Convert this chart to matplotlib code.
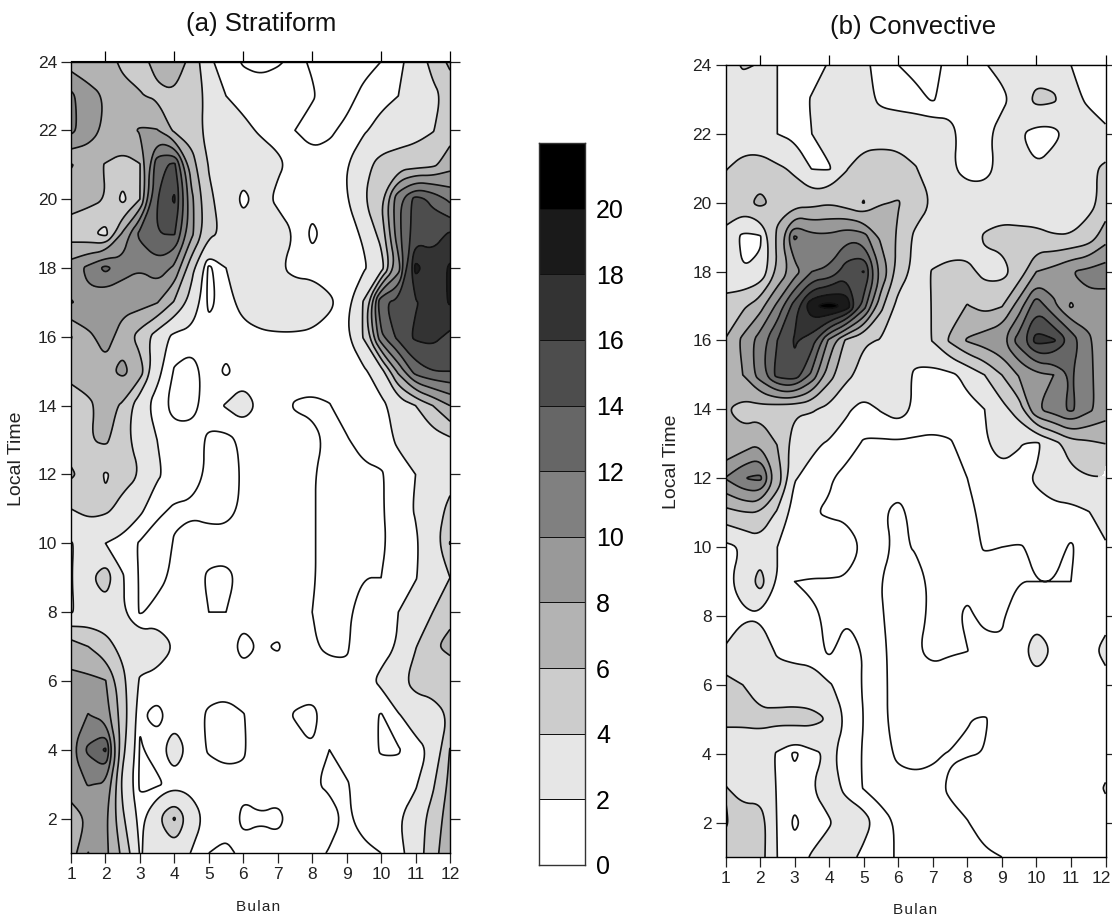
import numpy as np
import matplotlib
matplotlib.use("Agg")
import matplotlib.pyplot as plt
from matplotlib.path import Path
from matplotlib.transforms import ScaledTranslation

plt.rcParams['font.family'] = ['Liberation Sans', 'DejaVu Sans']

W, H = 1112, 917

months = [1, 1.5, 2, 2.5, 3, 3.5, 4, 4.5, 5, 5.5, 6, 6.5, 7, 7.5, 8, 8.5, 9, 9.5, 10, 10.5, 11, 11.5, 12]
hours = list(range(24, 0, -1))

# rows run from 24h down to 1h, columns are half month steps
stratiform = [
    [7, 7, 7, 5.5, 5.5, 6.5, 7, 5.5, 2.2, 1.5, 0.9, 0.7, 0.9, 1.2, 0.9, 0.6, 0.4, 0.6, 1.0, 1.5, 3, 4.5, 6.5],
    [10.5, 8.6, 7.9, 6.8, 6.1, 5.7, 5.8, 5, 3.5, 2, 1.5, 1.5, 1.5, 1.4, 1.1, 0.6, 0.6, 1.3, 1.5, 2, 3, 3.6, 4.5],
    [10.5, 9, 7.6, 7.2, 8.2, 8.1, 5.6, 5.2, 3.2, 2.5, 2.4, 1.8, 1.5, 1, 0.6, 0.8, 1.3, 1.8, 2.6, 3, 3.4, 3.9, 5],
    [5.9, 6.6, 5.9, 5.4, 5.9, 13.4, 14.5, 6.8, 3.9, 3, 3, 2.9, 2.3, 1.5, 1.4, 1.5, 2, 3.5, 4.6, 4.9, 5, 5.5, 7.2],
    [6.8, 6.5, 6, 3.4, 6, 14, 16.3, 8.5, 4.3, 3.3, 1.5, 2.7, 1.6, 1.5, 1.5, 1.5, 1.95, 3.9, 6, 11.5, 14.8, 13.5, 11.5],
    [5, 4.5, 3.3, 8.3, 12.6, 14, 14.2, 8.5, 4.5, 3.6, 3, 3, 3, 1.95, 0.7, 1.5, 1.5, 2.2, 4.7, 11.5, 15, 15.3, 16.2],
    [9, 10.5, 12.6, 10.8, 10.1, 11.2, 9.6, 4.6, 0.7, 2, 3, 3, 2.2, 1.5, 1.5, 1.5, 1.5, 1.8, 3, 9, 18.6, 16.8, 18.3],
    [10.1, 9.5, 8.2, 8.5, 8.8, 8.1, 5.8, 3.2, 0.7, 1.5, 2.5, 3.1, 3.2, 3.2, 3, 2.2, 1.5, 4.2, 13.8, 14.5, 15.8, 17, 18.2],
    [5.9, 7.6, 8.7, 7.3, 5.1, 3, 1.5, 1.5, 1.5, 1.5, 1.5, 1.7, 1.8, 1.8, 1.7, 1.6, 1.8, 4.2, 11.5, 14.7, 16.4, 16.6, 15.5],
    [7, 7, 7.5, 8.5, 7, 2.4, 0.9, 0.5, 1.5, 0.8, 1.5, 1.5, 1.5, 1.5, 1.5, 1.5, 1.5, 1.7, 3.1, 8.5, 13, 14, 14],
    [4.3, 5.6, 6.7, 5.7, 2.5, 1.5, 0.6, 0.6, 1.5, 2.1, 2.6, 1.8, 1.5, 0.9, 0.8, 0.95, 1.5, 1.5, 1.6, 2.7, 4, 6, 8],
    [5, 5.9, 6.4, 4.7, 3, 2, 1.5, 1.5, 0.8, 0.7, 1.2, 1.5, 1.5, 1.5, 1.3, 0.8, 0.9, 1.5, 1.5, 2.2, 2.6, 3, 3.6],
    [6.3, 5.2, 3.8, 4.7, 4, 2.2, 1.5, 1.5, 0.8, 0.6, 1.1, 1.5, 1.5, 1.5, 1.1, 0.6, 0.6, 0.7, 0.9, 1.5, 2, 3, 3.2],
    [4, 4.5, 4.4, 3.4, 2.3, 1.2, 0.9, 0.8, 0.6, 0.6, 1.2, 1.5, 1.5, 1.5, 1.1, 0.6, 0.5, 0.5, 0.9, 1.5, 2.1, 3, 4.5],
    [1.9, 2.6, 2, 1.5, 0.9, 0.6, 1.05, 1.5, 1.5, 1.5, 1.5, 1.5, 1.5, 1.5, 1.1, 0.6, 0.5, 0.5, 0.8, 1.5, 1.8, 3, 6.1],
    [1.9, 3.6, 5.2, 2.1, 0.9, 0.7, 1.2, 1.5, 0.8, 0.7, 1.3, 1.5, 1.5, 1.5, 1.1, 0.6, 0.6, 1, 1, 1.5, 1.9, 3, 4],
    [1.9, 2.5, 3, 2.1, 0.9, 1.3, 1.5, 1.5, 1, 1, 1.4, 1.5, 1.5, 1.5, 1, 0.6, 0.8, 1.5, 1.5, 2, 3, 4, 5.5],
    [7, 6, 4.6, 3.5, 3, 2.9, 2, 1.5, 1.5, 1.5, 0.6, 1.1, 0.9, 1.5, 1.1, 0.8, 0.9, 1.5, 1.5, 2.1, 3.9, 5.8, 6.5],
    [8.5, 8.5, 8.1, 4.5, 1.8, 1.5, 1.5, 1.5, 1.5, 1.5, 1.5, 1.5, 1.5, 1.5, 1.5, 1.5, 1.2, 1.5, 2.3, 3.3, 4.8, 5, 4.6],
    [8.5, 10.1, 9, 5, 1.1, 0.7, 1.4, 1.5, 0.8, 0.6, 0.95, 1.5, 1.5, 0.9, 0.7, 1.5, 1.5, 1.5, 0.9, 1.9, 2.6, 3, 4.2],
    [9.7, 12.4, 14.3, 4.5, 0.9, 1.4, 3, 1.5, 0.9, 0.6, 0.9, 1.5, 1.5, 1.5, 1.05, 1, 1.5, 1.5, 0.9, 0.9, 1.6, 2.2, 6.1],
    [9.2, 10.1, 9.8, 3.5, 0.8, 0.8, 1.4, 1.5, 1.5, 1.5, 1.2, 1.5, 1.5, 1.5, 1.1, 0.8, 0.9, 1.5, 1.5, 1.5, 1.8, 3.7, 6.5],
    [6.9, 8.2, 8.4, 4.3, 1.5, 3.9, 6.2, 3, 1.5, 1.5, 0.8, 0.9, 0.7, 1.5, 1.5, 1.5, 0.8, 1.5, 1.5, 1.9, 2.9, 4.8, 7],
    [7, 10.05, 8.5, 5.5, 1.9, 2.6, 3.2, 1.9, 1, 0.7, 1.3, 1.5, 1.5, 1.5, 1.4, 0.9, 0.9, 0.7, 1, 1.5, 2.9, 5.2, 7.5],
]

convective = [
    [3, 4.2, 3.9, 2, 1.5, 1.5, 2.1, 3, 2.3, 1.5, 1, 0.7, 0.7, 1.3, 1.5, 1.9, 2.5, 3, 3, 3, 2, 1.5, 1.5],
    [3, 3, 3, 2, 1.5, 2.1, 3, 3, 2.5, 1.7, 1.5, 1.3, 0.9, 1.5, 1.5, 1.7, 1.6, 2.7, 4.6, 4.3, 2.6, 1.7, 1.5],
    [3.1, 3, 2.8, 2, 1.5, 2, 3, 3, 3, 3, 3, 3, 3, 2.4, 1.4, 1.6, 2.7, 2.1, 1.3, 1.4, 2.9, 3, 2.2],
    [3.9, 4.6, 4.8, 4.3, 3.7, 1.9, 1.8, 3.9, 5, 5.3, 5, 4.1, 3, 2.2, 1.4, 1.4, 2.5, 3, 2.1, 3, 3.3, 3.6, 4.4],
    [5, 5.3, 6.6, 5.3, 5, 5.3, 5.8, 5, 3.9, 5.9, 6.1, 5.2, 3.9, 3, 3, 3, 3, 3, 3, 3, 3, 3.4, 4.6],
    [3.5, 1.5, 1.7, 6.5, 12.3, 10.6, 10.5, 11.5, 11, 7.5, 5.7, 3.5, 3, 3, 3, 4.2, 4.6, 4.5, 4.4, 4.1, 4.1, 4.8, 7.2],
    [2.8, 2.05, 2.4, 6.1, 9, 12, 12.3, 15.2, 16.1, 10, 5.2, 3.4, 4.1, 4.5, 4.5, 3.5, 3.3, 4.8, 8, 8.7, 10, 10.5, 11],
    [4.7, 5.6, 7.2, 10.5, 15, 19.7, 21, 19.5, 13, 6.5, 3.3, 3, 4.1, 5, 6.1, 5.3, 5.9, 9, 13.5, 10.5, 7.7, 9.5, 9],
    [6.1, 8.5, 11, 14, 16.2, 15, 9.5, 5.5, 4.2, 3.9, 4, 3, 4.1, 6.3, 8.2, 9, 9.8, 13, 16.8, 16.3, 13.5, 10.2, 9.3],
    [7.5, 8, 11, 14.8, 15.5, 11.5, 6.8, 4.5, 3.3, 3, 2.9, 1.7, 1.4, 1.6, 2.5, 4, 6, 8.2, 9.5, 10, 12.2, 10.2, 9.5],
    [6.1, 5.3, 5.1, 4.6, 4.3, 4.2, 3.5, 2.2, 1.5, 2.1, 2.6, 1.8, 1.5, 1.5, 1.5, 2, 3.3, 5, 9.9, 11, 12.5, 10.5, 9],
    [6, 6.8, 8, 5.9, 3, 2.3, 1.8, 1.4, 0.9, 0.8, 0.8, 0.8, 0.8, 0.9, 1.4, 1.8, 2.8, 2.1, 1.6, 3.2, 5, 5.5, 6],
    [10.1, 12, 12.5, 7.5, 2.1, 1.5, 1.1, 0.7, 0.6, 0.6, 0.6, 0.6, 0.6, 0.7, 1, 1.3, 1.3, 1.5, 2.2, 3, 3.4, 3.9, 3.9],
    [5.3, 5.9, 6, 3.7, 1.2, 1.05, 0.9, 0.8, 0.8, 0.9, 1.25, 0.7, 0.7, 0.7, 0.7, 1.3, 1.5, 1.5, 1.5, 1.5, 1.5, 1.9, 2.8],
    [1.5, 2.1, 3, 2, 1.5, 1.5, 1.5, 1.5, 0.9, 0.7, 1.2, 0.9, 0.7, 0.7, 0.8, 1.05, 1, 0.95, 1.1, 1.3, 0.9, 1.4, 1.8],
    [1.7, 2.6, 4.8, 2, 1, 0.95, 0.95, 0.9, 0.8, 1, 1.5, 1.5, 0.7, 0.7, 0.7, 0.7, 0.7, 1, 1, 1, 1, 1.5, 1.5],
    [1.5, 1.8, 1.8, 1.5, 1.5, 1.05, 0.95, 0.9, 0.9, 0.9, 1.5, 1.5, 0.7, 0.7, 1.2, 0.7, 0.9, 1.5, 1.5, 1.5, 1.5, 1.5, 1.5],
    [2.1, 3, 3.2, 1.7, 1.5, 1.5, 0.8, 1.5, 0.95, 0.8, 1.4, 1.1, 0.7, 0.9, 0.98, 1.4, 1.1, 1.5, 2.8, 1.9, 1.5, 1.6, 2.4],
    [4.8, 4, 3.2, 3, 2.8, 2.6, 2.1, 1.6, 0.9, 0.7, 1.5, 1.5, 1.5, 1.5, 1.5, 1.5, 1.5, 1.5, 1.5, 1.5, 1.5, 1.5, 1.5],
    [4.3, 4.3, 4.4, 4.5, 4.7, 4.6, 3.9, 1.8, 1, 0.7, 1.5, 1.5, 1.5, 1.5, 1.02, 0.95, 1.2, 1.5, 1.5, 1.5, 1.5, 1.5, 1.5],
    [3, 3, 3, 1.8, 0.8, 1.6, 2.2, 1.6, 0.9, 0.7, 1.15, 1.3, 1.1, 0.95, 0.95, 1.02, 1.5, 1.5, 1.5, 1.5, 1.5, 1.5, 1.5],
    [4.1, 3.2, 3.2, 1.9, 1.5, 2, 2.9, 1.5, 0.95, 0.7, 0.7, 0.7, 0.8, 1.1, 1.5, 1.5, 1.5, 1.5, 1.5, 1.5, 1.5, 1.5, 2.1],
    [3.8, 5, 5, 1.9, 0.8, 1.5, 1.8, 3.3, 2.6, 1.3, 0.9, 0.7, 0.7, 0.8, 0.95, 1.5, 1.5, 1.5, 1.5, 1.5, 1.5, 1.5, 1.5],
    [5, 5, 4.8, 2, 1.5, 2.1, 3, 2.6, 1.6, 1.3, 0.9, 0.7, 0.7, 0.7, 0.7, 0.8, 1, 1.5, 1.5, 1.5, 1.5, 1.5, 1.5],
]

fill_levels = [0, 1, 2, 4, 6, 8, 10, 12, 14, 16, 18, 20, 22]
fill_colors = ['#ffffff', '#ffffff', '#e6e6e6', '#cccccc', '#b3b3b3', '#999999', '#808080',
               '#666666', '#4d4d4d', '#333333', '#1a1a1a', '#000000']
line_levels = [1, 2, 4, 6, 8, 10, 12, 14, 16, 18, 20]
bar_levels = [0, 2, 4, 6, 8, 10, 12, 14, 16, 18, 20, 22]
bar_labels = [0, 2, 4, 6, 8, 10, 12, 14, 16, 18, 20]


def px_axes(fig, left, top, right, bottom):
    return fig.add_axes([left / W, 1 - bottom / H, (right - left) / W, (bottom - top) / H])


def on_edge(p):
    return p[0] <= 1 or p[0] >= 12 or p[1] <= 1 or p[1] >= 24


def cut_corners(pts, closed, rounds=3):
    # rounds off the drawn outline only, points on the frame stay where they are
    for _ in range(rounds):
        n = len(pts)
        if n < 3:
            return pts
        out = []
        for i in range(n if closed else n - 1):
            p, q = pts[i], pts[(i + 1) % n]
            out.append(p if on_edge(p) else 0.75 * p + 0.25 * q)
            out.append(q if on_edge(q) else 0.25 * p + 0.75 * q)
        pts = np.array(out)
    return pts


def round_paths(cs):
    new_paths = []
    for path in cs.get_paths():
        if len(path.vertices) == 0:
            new_paths.append(path)
            continue
        starts = list(np.where(path.codes == Path.MOVETO)[0]) + [len(path.vertices)]
        verts, codes = [], []
        for s, e in zip(starts[:-1], starts[1:]):
            closed = path.codes[e - 1] == Path.CLOSEPOLY or np.allclose(path.vertices[s], path.vertices[e - 1])
            ring = path.vertices[s:e - 1] if closed else path.vertices[s:e]
            pts = cut_corners(ring, closed)
            if closed:
                pts = np.vstack([pts, pts[:1]])
            c = [Path.LINETO] * len(pts)
            c[0] = Path.MOVETO
            if closed:
                c[-1] = Path.CLOSEPOLY
            verts.append(pts)
            codes.extend(c)
        new_paths.append(Path(np.vstack(verts), codes))
    cs.set_paths(new_paths)


def draw_panel(fig, box, values):
    ax = px_axes(fig, *box)
    z = np.array(values)
    filled = ax.contourf(months, hours, z, levels=fill_levels, colors=fill_colors)
    round_paths(filled)
    lines = ax.contour(months, hours, z, levels=line_levels, colors='#111111', linewidths=1.2)
    round_paths(lines)
    ax.set_xlim(1, 12)
    ax.set_ylim(1, 24)
    ax.set_xticks(range(1, 13))
    ax.set_yticks(range(2, 25, 2))
    ax.tick_params(axis='both', direction='out', length=7, width=0.9, labelsize=12.5,
                   colors='#222222', pad=3)
    ax.tick_params(axis='y', right=True)
    # top ticks only every second month
    top = ax.secondary_xaxis('top')
    top.set_xticks(range(2, 13, 2))
    top.set_xticklabels([])
    top.tick_params(direction='out', length=7, width=0.9)
    for sp in ax.spines.values():
        sp.set_linewidth(1.0)
    return ax


fig = plt.figure(figsize=(W / 100, H / 100), dpi=100)

draw_panel(fig, (71, 61.5, 450, 853), stratiform)
ax_b = draw_panel(fig, (725.5, 65, 1105.5, 857), convective)

# the last month label of the right panel has to stay inside the picture
last = ax_b.get_xticklabels()[-1]
last.set_horizontalalignment('right')
last.set_transform(last.get_transform() + ScaledTranslation(4 / 72, 0, fig.dpi_scale_trans))

fig.text(261 / W, 1 - 24 / H, '(a) Stratiform', fontsize=18.5, ha='center', va='center', color='#111111')
fig.text(913 / W, 1 - 27 / H, '(b) Convective', fontsize=18.5, ha='center', va='center', color='#111111')
fig.text(258 / W, 1 - 907 / H, 'B u l a n'.replace(' ', '\u200a'), fontsize=11, ha='center', va='center', color='#222222')
fig.text(915 / W, 1 - 910 / H, 'B u l a n'.replace(' ', '\u200a'), fontsize=11, ha='center', va='center', color='#222222')
fig.text(17 / W, 1 - 459 / H, 'Local Time', fontsize=14, rotation=90, ha='center', va='center', color='#222222')
fig.text(672 / W, 1 - 462 / H, 'Local Time', fontsize=14, rotation=90, ha='center', va='center', color='#222222')

# grey scale bar
cax = px_axes(fig, 539, 143, 585, 865)
cax.pcolormesh([0, 1], bar_levels, np.array(bar_levels[:-1]).reshape(-1, 1),
               cmap=matplotlib.colors.ListedColormap(fill_colors[1:]),
               norm=matplotlib.colors.BoundaryNorm(bar_levels, 11),
               edgecolors='#111111', linewidth=0.6)
cax.set_xlim(0, 1)
cax.set_ylim(0, 22)
cax.set_xticks([])
cax.yaxis.tick_right()
cax.set_yticks(bar_labels)
cax.tick_params(axis='y', length=0, labelsize=18, pad=8, colors='#000000')
for sp in cax.spines.values():
    sp.set_linewidth(1.0)
    sp.set_color('#333333')

plt.savefig('out.png', dpi=100)
